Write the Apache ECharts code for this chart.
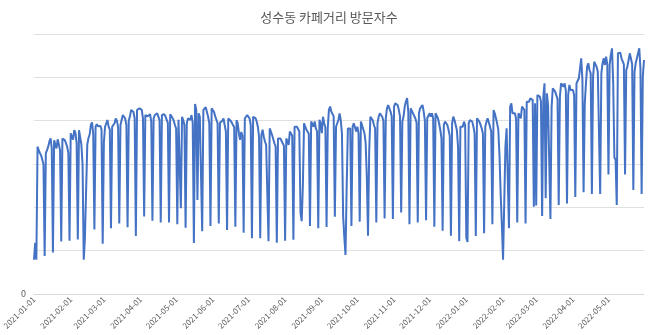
<!DOCTYPE html>
<html>
<head>
<meta charset="utf-8">
<script src="https://cdn.jsdelivr.net/npm/echarts@6/dist/echarts.min.js"></script>
<style>
  html, body { margin: 0; padding: 0; background: #ffffff; }
  #chart { width: 658px; height: 335px; }
</style>
</head>
<body>
<div id="chart"></div>
<script>
// Daily visitor counts, one array per month
const jan21 = [790,1180,790,3400,3320,3250,3200,3170,3000,880,3250,3320,3400,3520,3590,3360,960,3550,3590,3360,3570,3550,3320,1210,3590,3620,3550,3480,3400,3250,1230];
const feb21 = [3710,3750,3560,3780,3720,3480,1260,3780,3800,3450,3000,790,1300,1280,3450,3600,3680,3900,3960,3700,1490,3860,3920,3870,3900,3880,3800,1160];
const mar21 = [3500,3860,3820,4015,3860,3800,1515,3860,3900,3940,4050,4000,3850,1630,3900,3920,4130,4150,4050,3900,1540,4000,4100,4245,4245,4200,4050,1340,4245,4285,4285];
const apr21 = [4280,4250,4050,1790,4130,4170,4100,4110,4150,3980,1690,4050,4130,4100,4170,4190,4020,1650,4130,4170,4150,4100,4060,3950,1650,4150,4130,4060,4000,3900];
const may21 = [3820,1610,4020,4050,1980,4090,4010,3900,1530,3940,4050,4090,4020,4130,3950,1180,4385,4250,2170,4170,4090,4050,1450,4250,4285,4310,4200,4090,3940,1570,4285];
const jun21 = [4280,4200,4100,4020,3940,1630,3950,3940,4000,4050,3900,3750,1480,4050,4090,4000,3950,3900,3850,1550,4010,3940,3710,3560,3740,3650,1415,4050,4070,4130];
const jul21 = [4170,4050,3900,1285,4090,4100,4060,3980,3860,3630,1285,3670,3790,3630,3520,3440,3400,1220,3820,3750,3670,3670,3480,3400,1185,3590,3630,3590,3630,3480,3420];
const aug21 = [1230,3590,3630,3440,3750,3750,3650,1250,3860,3880,3860,3820,3750,1880,1680,2500,3940,3860,3790,3750,3700,1570,3980,4020,3860,3980,3820,3750,1515,4020,3940];
const sep21 = [3710,4090,3940,3850,1545,3820,4250,4325,4210,4170,4100,1785,3860,3900,4015,4170,4010,3700,1800,1300,900,2500,3820,3860,3820,1570,3860,3940,3980,3750];
const oct21 = [3860,3700,1670,3980,3980,3800,3710,3480,2700,1345,3300,4090,4050,4010,3900,3820,1650,3940,4090,4170,4210,4090,4000,1745,4050,4285,4362,4324,4210,4100,1730];
const nov21 = [4324,4400,4400,4362,4250,4100,1880,3980,4100,4330,4440,4520,4200,1610,4285,4250,4170,4208,4050,3950,1650,4170,4285,4324,4362,4210,4000,1700,4055,4093];
const dec21 = [4170,4093,4170,4050,1555,4170,4130,4055,3940,3790,3600,1460,3900,3980,3940,3900,3786,3650,1345,3940,4093,4016,3980,3786,3400,1220,3862,3901,3862,3978,3900];
const jan22 = [1300,1200,3939,4016,4055,3978,3862,3700,1340,4055,4016,3978,3901,3824,3700,1400,3862,3978,4055,4016,3862,3750,1610,4247,4170,4055,3939,3786,3200,2300,1600];
const feb22 = [790,2100,3400,3824,3786,1515,4324,4401,4170,4208,4170,4050,1650,4170,4170,4055,4324,4362,4250,1630,4439,4478,4439,4516,4555,4480,2015,4400];
const mar22 = [2040,4593,4632,4555,4450,1800,4550,4862,2210,4632,4362,4324,1730,4324,4747,4708,4670,4632,4500,2055,4555,4862,4824,4785,4862,4700,2090,4593,4824,4708,4747];
const apr22 = [4708,4600,2240,4862,4901,4978,4978,5439,4950,2350,4400,4862,5250,5324,5170,5093,2310,5015,5360,5300,5240,5131,5100,2310,5093,5324,5439,5285,5478,5300];
const may22 = [2760,5285,5516,5670,4860,3150,3100,2055,5555,5593,5570,5439,5400,5300,2760,5170,5247,5401,5554,5516,5300,2400,5131,5324,5362,5554,5670,5200,2310,5016,5401];

// Month keys matching the arrays above
const months = ['2021-01','2021-02','2021-03','2021-04','2021-05','2021-06','2021-07','2021-08','2021-09','2021-10','2021-11','2021-12','2022-01','2022-02','2022-03','2022-04','2022-05'];
const monthly = [jan21,feb21,mar21,apr21,may21,jun21,jul21,aug21,sep21,oct21,nov21,dec21,jan22,feb22,mar22,apr22,may22];

// Build date categories (YYYY-MM-DD) and the flat value list
const dates = [];
const values = [];
monthly.forEach((arr, m) => {
  arr.forEach((v, d) => {
    dates.push(months[m] + '-' + String(d + 1).padStart(2, '0'));
    values.push(v);
  });
});

const chart = echarts.init(document.getElementById('chart'), null, { renderer: 'canvas' });
const txt = '#595959';
chart.setOption({
  backgroundColor: '#ffffff',
  animation: false,
  title: {
    text: '성수동 카페거리 방문자수',
    left: 'center',
    top: 6,
    textStyle: { fontFamily: 'Noto Sans CJK KR', fontSize: 13, fontWeight: 'normal', color: txt }
  },
  grid: { left: 27, right: 14, top: 34, bottom: 41, containLabel: false },
  xAxis: {
    type: 'category',
    data: dates,
    boundaryGap: false,
    axisLine: { lineStyle: { color: '#d9d9d9', width: 1 } },
    axisTick: { show: false },
    axisLabel: {
      rotate: 45,
      margin: 4,
      fontSize: 8,
      fontFamily: 'Noto Sans CJK KR',
      color: txt,
      interval: (i, v) => v.slice(8) === '01'
    },
    splitLine: { show: false }
  },
  yAxis: {
    type: 'value',
    min: 0,
    max: 6000,
    interval: 1000,
    axisLine: { show: false },
    axisTick: { show: false },
    axisLabel: {
      fontSize: 9,
      fontFamily: 'Noto Sans CJK KR',
      color: txt,
      margin: 8,
      formatter: v => (v === 0 ? '0' : '')
    },
    splitLine: { lineStyle: { color: '#e0e0e0', width: 1 } }
  },
  series: [{
    type: 'line',
    data: values,
    showSymbol: false,
    symbol: 'none',
    lineStyle: { color: '#4472C4', width: 2 },
    itemStyle: { color: '#4472C4' }
  }]
});
</script>
</body>
</html>
